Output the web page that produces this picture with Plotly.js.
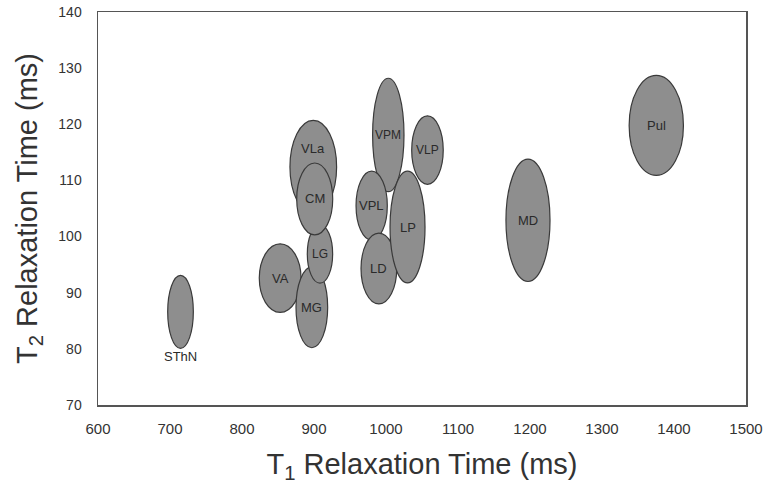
<!DOCTYPE html>
<html>
<head>
<meta charset="utf-8">
<script src="https://cdn.plot.ly/plotly-3.0.1.min.js"></script>
<style>html,body{margin:0;padding:0;background:#fff;}#chart{width:774px;height:492px;}</style>
</head>
<body>
<div id="chart"></div>
<script>
// Nuclei (drawing order), centre T1/T2 values and spreads (ms)
const nuclei   = ["SThN","VA","MG","LG","VLa","CM","VPM","VPL","LD","LP","VLP","MD","Pul"];
const t1Mean   = [714.6, 853.0, 897.0, 908.3, 899.0, 901.0, 1003.2, 980.1, 990.1, 1029.9, 1057.6, 1197.2, 1375.4];
const t2Mean   = [86.6, 92.6, 87.4, 96.9, 112.4, 106.7, 118.1, 105.5, 94.3, 101.7, 115.4, 102.9, 119.8];
const t1Spread = [17.8, 29.0, 22.0, 17.6, 32.4, 25.0, 21.8, 21.7, 24.8, 24.3, 21.9, 30.6, 37.7];
const t2Spread = [6.5, 6.1, 7.2, 5.2, 8.3, 6.4, 10.1, 6.15, 6.3, 9.95, 6.1, 10.9, 8.9];
const xTicks   = [600,700,800,900,1000,1100,1200,1300,1400,1500];
const yTicks   = [70,80,90,100,110,120,130,140];

const labelShift = {SThN: -45, VLa: 18};
const labelSize  = {SThN: 13, VA: 13, MG: 13, CM: 13, LP: 13, LD: 13, MD: 13, Pul: 13, VLa: 13, VPL: 13, LG: 12, VPM: 12, VLP: 12};

const shapes = nuclei.map((n, i) => ({
  type: "circle", xref: "x", yref: "y",
  x0: t1Mean[i] - t1Spread[i], x1: t1Mean[i] + t1Spread[i],
  y0: t2Mean[i] - t2Spread[i], y1: t2Mean[i] + t2Spread[i],
  fillcolor: "#8e8e8e", line: {color: "#3a3a3a", width: 1.2}, layer: "above"
}));

const annotations = nuclei.map((n, i) => ({
  x: t1Mean[i], y: t2Mean[i], xref: "x", yref: "y",
  text: n, showarrow: false, yshift: labelShift[n] || 0,
  font: {family: "Liberation Sans, Arial, sans-serif", size: labelSize[n] || 12, color: "#2a2a2a"}
}));

const trace = {
  x: t1Mean, y: t2Mean, mode: "markers", type: "scatter",
  marker: {size: 1, color: "rgba(0,0,0,0)"}, hoverinfo: "skip", showlegend: false
};

const layout = {
  width: 774, height: 492,
  margin: {l: 98, r: 28, t: 12, b: 87},
  paper_bgcolor: "#fff", plot_bgcolor: "#fff",
  font: {family: "Liberation Sans, Arial, sans-serif", color: "#333"},
  xaxis: {
    range: [600, 1500], tickvals: xTicks, ticktext: xTicks.map(String),
    showgrid: false, zeroline: false, ticks: "", ticklabelstandoff: 9,
    showline: true, linecolor: "#555", linewidth: 1.5, mirror: true,
    tickfont: {size: 15, color: "#333"},
    title: {text: "T<sub>1</sub> Relaxation Time (ms)", font: {size: 29, color: "#333"}, standoff: 18}
  },
  yaxis: {
    range: [70, 140], tickvals: yTicks, ticktext: yTicks.map(String),
    showgrid: false, zeroline: false, ticks: "", ticklabelstandoff: 12,
    showline: true, linecolor: "#555", linewidth: 1.5, mirror: true,
    tickfont: {size: 14, color: "#333"},
    title: {text: "T<sub>2</sub> Relaxation Time (ms)", font: {size: 29, color: "#333"}, standoff: 12}
  },
  shapes: shapes,
  annotations: annotations,
  showlegend: false
};

Plotly.newPlot("chart", [trace], layout, {displayModeBar: false, staticPlot: true});
</script>
</body>
</html>
